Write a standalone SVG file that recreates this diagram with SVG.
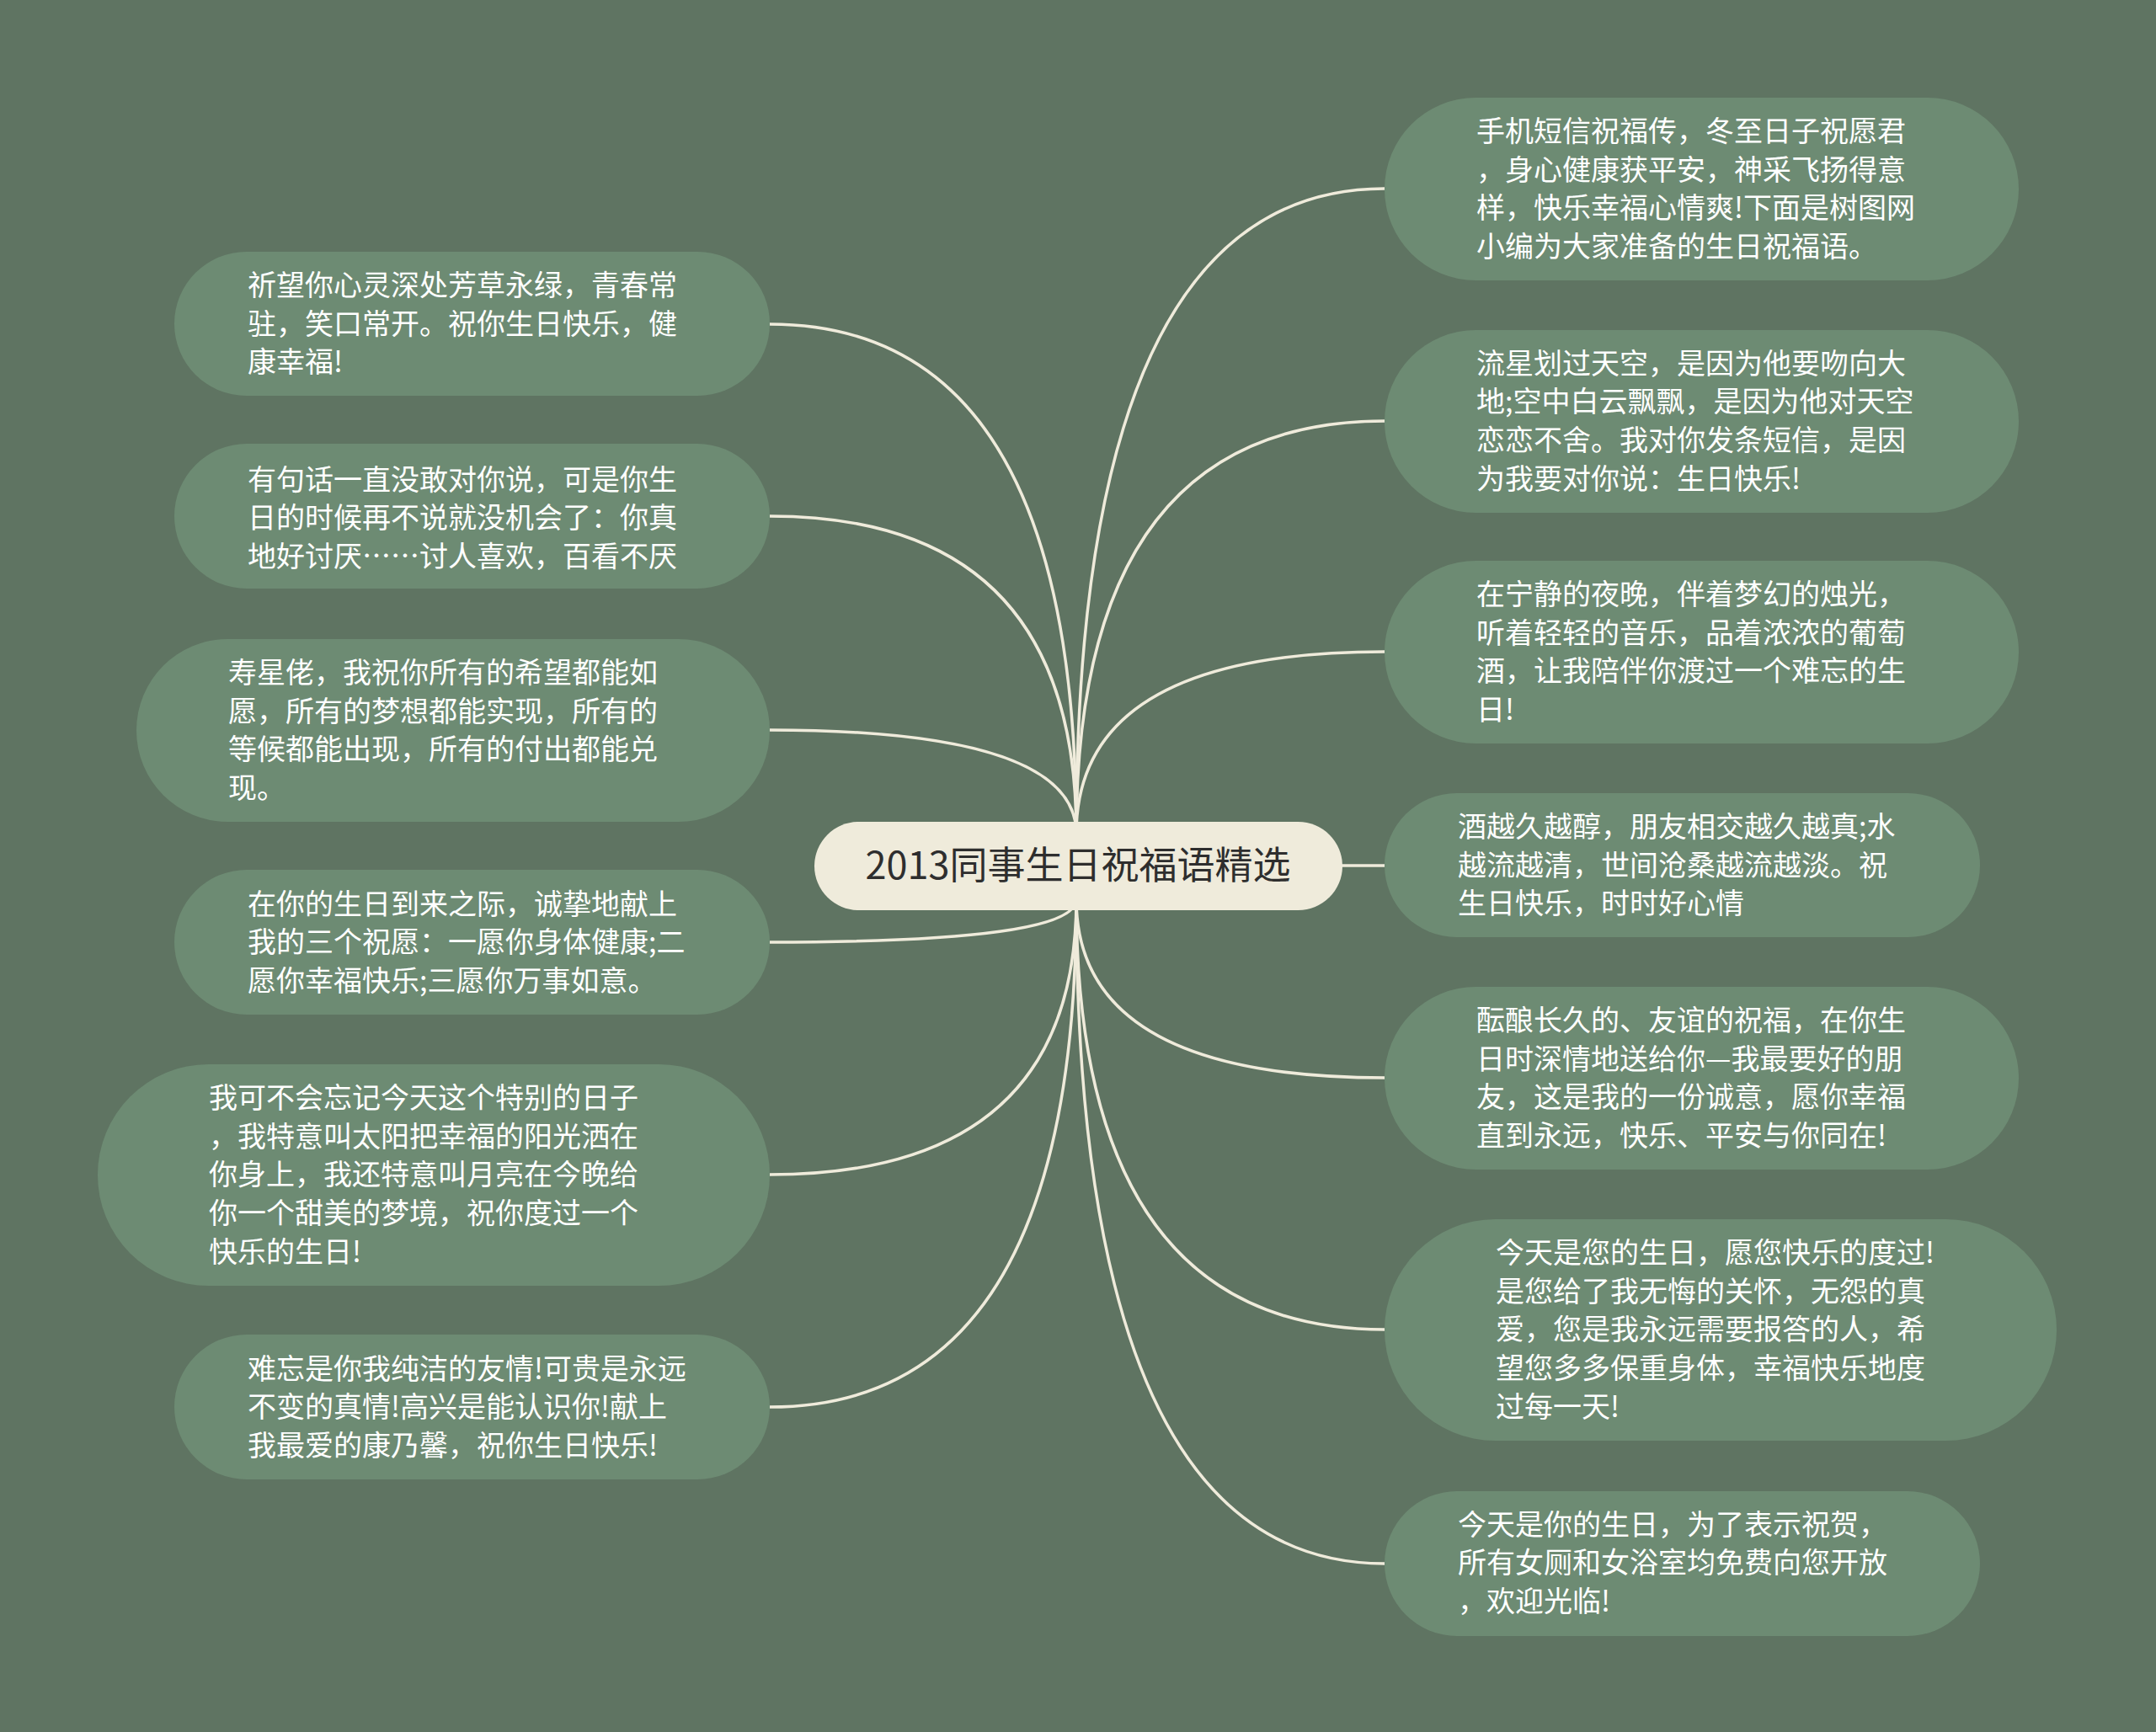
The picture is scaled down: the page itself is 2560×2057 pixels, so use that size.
<svg xmlns="http://www.w3.org/2000/svg" width="2560" height="2057" viewBox="0 0 2560 2057">
<style>
.bg{fill:#5f7462}
.node{fill:#6d8b73}
.t{font-family:"Noto Sans CJK SC","Noto Sans",sans-serif;font-size:34px;fill:#ffffff}
.ct{font-family:"Noto Sans CJK SC","Noto Sans",sans-serif;font-size:45px;fill:#2e2e2e}
.edge{fill:none;stroke:#efebdb;stroke-width:3.5}
</style>
<rect class="bg" x="0" y="0" width="2560" height="2057"/>
<g id="connectors">
<path class="edge" d="M1278 990 Q1278 385 914 385"/>
<path class="edge" d="M1278 990 Q1278 613 914 613"/>
<path class="edge" d="M1278 990 Q1278 867 914 867"/>
<path class="edge" d="M1278 1068 Q1278 1119 914 1119"/>
<path class="edge" d="M1278 1068 Q1278 1395 914 1395"/>
<path class="edge" d="M1278 1068 Q1278 1671 914 1671"/>
<path class="edge" d="M1278 990 Q1278 224 1644 224"/>
<path class="edge" d="M1278 990 Q1278 500 1644 500"/>
<path class="edge" d="M1278 990 Q1278 774 1644 774"/>
<path class="edge" d="M1590 1028 L1644 1028"/>
<path class="edge" d="M1278 1068 Q1278 1280 1644 1280"/>
<path class="edge" d="M1278 1068 Q1278 1579 1644 1579"/>
<path class="edge" d="M1278 1068 Q1278 1857 1644 1857"/>
</g>
<g id="center">
<rect x="967" y="976" width="627" height="105" rx="52.5" fill="#efebdb"/>
<text class="ct" x="1280" y="1044" text-anchor="middle">2013同事生日祝福语精选</text>
</g>
<g id="L1">
<rect class="node" x="207" y="299" width="707" height="171" rx="85.5"/>
<text class="t" x="294"><tspan x="294" y="351">祈望你心灵深处芳草永绿，青春常</tspan><tspan x="294" y="397">驻，笑口常开。祝你生日快乐，健</tspan><tspan x="294" y="442">康幸福!</tspan></text>
</g>
<g id="L2">
<rect class="node" x="207" y="527" width="707" height="172" rx="86"/>
<text class="t" x="294"><tspan x="294" y="582">有句话一直没敢对你说，可是你生</tspan><tspan x="294" y="627">日的时候再不说就没机会了：你真</tspan><tspan x="294" y="673">地好讨厌……讨人喜欢，百看不厌</tspan></text>
</g>
<g id="L3">
<rect class="node" x="162" y="759" width="752" height="217" rx="108.5"/>
<text class="t" x="271"><tspan x="271" y="811">寿星佬，我祝你所有的希望都能如</tspan><tspan x="271" y="857">愿，所有的梦想都能实现，所有的</tspan><tspan x="271" y="902">等候都能出现，所有的付出都能兑</tspan><tspan x="271" y="948">现。</tspan></text>
</g>
<g id="L4">
<rect class="node" x="207" y="1033" width="707" height="172" rx="86"/>
<text class="t" x="294"><tspan x="294" y="1086">在你的生日到来之际，诚挚地献上</tspan><tspan x="294" y="1131">我的三个祝愿：一愿你身体健康;二</tspan><tspan x="294" y="1177">愿你幸福快乐;三愿你万事如意。</tspan></text>
</g>
<g id="L5">
<rect class="node" x="116" y="1264" width="798" height="263" rx="131.5"/>
<text class="t" x="248"><tspan x="248" y="1316">我可不会忘记今天这个特别的日子</tspan><tspan x="248" y="1362">，我特意叫太阳把幸福的阳光洒在</tspan><tspan x="248" y="1407">你身上，我还特意叫月亮在今晚给</tspan><tspan x="248" y="1453">你一个甜美的梦境，祝你度过一个</tspan><tspan x="248" y="1499">快乐的生日!</tspan></text>
</g>
<g id="L6">
<rect class="node" x="207" y="1585" width="707" height="172" rx="86"/>
<text class="t" x="294"><tspan x="294" y="1638">难忘是你我纯洁的友情!可贵是永远</tspan><tspan x="294" y="1683">不变的真情!高兴是能认识你!献上</tspan><tspan x="294" y="1729">我最爱的康乃馨，祝你生日快乐!</tspan></text>
</g>
<g id="R1">
<rect class="node" x="1644" y="116" width="753" height="217" rx="108.5"/>
<text class="t" x="1753"><tspan x="1753" y="168">手机短信祝福传，冬至日子祝愿君</tspan><tspan x="1753" y="214">，身心健康获平安，神采飞扬得意</tspan><tspan x="1753" y="259">样，快乐幸福心情爽!下面是树图网</tspan><tspan x="1753" y="305">小编为大家准备的生日祝福语。</tspan></text>
</g>
<g id="R2">
<rect class="node" x="1644" y="392" width="753" height="217" rx="108.5"/>
<text class="t" x="1753"><tspan x="1753" y="444">流星划过天空，是因为他要吻向大</tspan><tspan x="1753" y="489">地;空中白云飘飘，是因为他对天空</tspan><tspan x="1753" y="535">恋恋不舍。我对你发条短信，是因</tspan><tspan x="1753" y="581">为我要对你说：生日快乐!</tspan></text>
</g>
<g id="R3">
<rect class="node" x="1644" y="666" width="753" height="217" rx="108.5"/>
<text class="t" x="1753"><tspan x="1753" y="718">在宁静的夜晚，伴着梦幻的烛光，</tspan><tspan x="1753" y="764">听着轻轻的音乐，品着浓浓的葡萄</tspan><tspan x="1753" y="809">酒，让我陪伴你渡过一个难忘的生</tspan><tspan x="1753" y="855">日!</tspan></text>
</g>
<g id="R4">
<rect class="node" x="1644" y="942" width="707" height="171" rx="85.5"/>
<text class="t" x="1731"><tspan x="1731" y="994">酒越久越醇，朋友相交越久越真;水</tspan><tspan x="1731" y="1040">越流越清，世间沧桑越流越淡。祝</tspan><tspan x="1731" y="1085">生日快乐，时时好心情</tspan></text>
</g>
<g id="R5">
<rect class="node" x="1644" y="1172" width="753" height="217" rx="108.5"/>
<text class="t" x="1753"><tspan x="1753" y="1224">酝酿长久的、友谊的祝福，在你生</tspan><tspan x="1753" y="1270">日时深情地送给你—我最要好的朋</tspan><tspan x="1753" y="1315">友，这是我的一份诚意，愿你幸福</tspan><tspan x="1753" y="1361">直到永远，快乐、平安与你同在!</tspan></text>
</g>
<g id="R6">
<rect class="node" x="1644" y="1448" width="798" height="263" rx="131.5"/>
<text class="t" x="1776"><tspan x="1776" y="1500">今天是您的生日，愿您快乐的度过!</tspan><tspan x="1776" y="1546">是您给了我无悔的关怀，无怨的真</tspan><tspan x="1776" y="1591">爱，您是我永远需要报答的人，希</tspan><tspan x="1776" y="1637">望您多多保重身体，幸福快乐地度</tspan><tspan x="1776" y="1683">过每一天!</tspan></text>
</g>
<g id="R7">
<rect class="node" x="1644" y="1771" width="707" height="172" rx="86"/>
<text class="t" x="1731"><tspan x="1731" y="1823">今天是你的生日，为了表示祝贺，</tspan><tspan x="1731" y="1868">所有女厕和女浴室均免费向您开放</tspan><tspan x="1731" y="1914">，欢迎光临!</tspan></text>
</g>
</svg>
